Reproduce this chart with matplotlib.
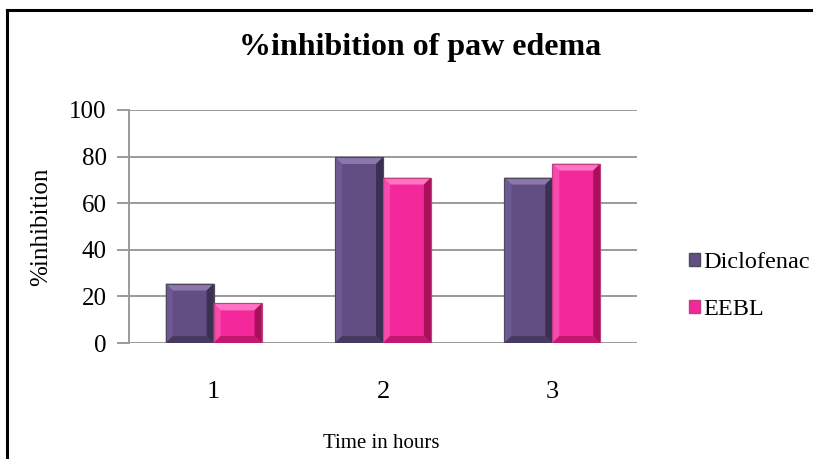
import matplotlib
matplotlib.use("Agg")
import matplotlib.pyplot as plt
from matplotlib.patches import Polygon, Rectangle
from matplotlib.lines import Line2D
import numpy as np

# Data
hours = ["1", "2", "3"]
series_names = ["Diclofenac", "EEBL"]
diclofenac = [25.5, 79.8, 71.0]
eebl = [17.0, 71.0, 77.0]
y_ticks = [0, 20, 40, 60, 80, 100]

# Styling
face = {"Diclofenac": "#624e83", "EEBL": "#f2289b"}
bevel = {
    "Diclofenac": {"top": "#8c76ad", "left": "#6e5a92", "right": "#3b2f52", "bottom": "#47395f", "edge": "#4a4a5a"},
    "EEBL": {"top": "#ff72c4", "left": "#f84aae", "right": "#a8105a", "bottom": "#c2186f", "edge": "#c0407f"},
}
serif = ["Liberation Serif", "DejaVu Serif"]
plt.rcParams["font.family"] = serif

W, H, DPI = 813, 459, 100
fig = plt.figure(figsize=(W / DPI, H / DPI), dpi=DPI)
ax = fig.add_axes([129 / W, 1 - 343 / H, (637 - 129) / W, (343 - 110) / H])

x = np.arange(len(hours))
bw = 0.283
ax.set_xlim(-0.5, len(hours) - 0.5)
ax.set_ylim(0, 100)

# grid
for t in y_ticks:
    ax.axhline(t, color="#9a9a9a", lw=1.4, zorder=1)

def bevel_bar(xc, val, name):
    rect = ax.bar(xc, val, width=bw, color=face[name], edgecolor=bevel[name]["edge"],
                  linewidth=0.8, zorder=2)[0]
    x0, y0 = rect.get_x(), rect.get_y()
    x1, y1 = x0 + rect.get_width(), y0 + rect.get_height()
    # bevel depth expressed in pixels, converted to data units
    px_x = (ax.get_xlim()[1] - ax.get_xlim()[0]) / (637 - 129)
    px_y = (ax.get_ylim()[1] - ax.get_ylim()[0]) / (343 - 110)
    d = 7
    dx, dy = d * px_x, d * px_y
    dy = min(dy, (y1 - y0) / 3)
    ix0, ix1, iy0, iy1 = x0 + dx, x1 - dx, y0 + dy, y1 - dy
    c = bevel[name]
    polys = [
        ([(x0, y1), (x1, y1), (ix1, iy1), (ix0, iy1)], c["top"]),
        ([(x0, y0), (x0, y1), (ix0, iy1), (ix0, iy0)], c["left"]),
        ([(x1, y0), (x1, y1), (ix1, iy1), (ix1, iy0)], c["right"]),
        ([(x0, y0), (x1, y0), (ix1, iy0), (ix0, iy0)], c["bottom"]),
    ]
    for pts, col in polys:
        ax.add_patch(Polygon(pts, closed=True, facecolor=col, edgecolor="none", zorder=3))
    ax.add_patch(Rectangle((x0, y0), x1 - x0, y1 - y0, fill=False,
                           edgecolor=c["edge"], lw=0.8, zorder=4))

for i in range(len(hours)):
    bevel_bar(x[i] - bw / 2, diclofenac[i], "Diclofenac")
    bevel_bar(x[i] + bw / 2, eebl[i], "EEBL")

ax.set_xticks(x)
ax.set_xticklabels(hours, fontsize=19)
ax.set_yticks(y_ticks)
ax.set_yticklabels([str(t) for t in y_ticks], fontsize=18)
ax.tick_params(axis="x", length=0, pad=27)
ax.tick_params(axis="y", length=9, color="#9a9a9a", width=1.4, pad=7)
for s in ["top", "right", "bottom"]:
    ax.spines[s].set_visible(False)
ax.spines["left"].set_color("#9a9a9a")
ax.spines["left"].set_linewidth(1.4)
ax.set_facecolor("white")

ax.set_ylabel("%inhibition", fontsize=18, labelpad=12)
fig.text(381 / W, 1 - 443 / H, "Time in hours", fontsize=15, ha="center", va="center")
fig.text(420 / W, 1 - 48 / H, "%inhibition of paw edema", fontsize=23, fontweight="bold",
         ha="center", va="center")

handles = [Rectangle((0, 0), 1, 1, facecolor=face[n], edgecolor=bevel[n]["edge"]) for n in series_names]
leg = fig.legend(handles, series_names, loc="center left", bbox_to_anchor=(689 / W, 1 - 286 / H),
                 frameon=False, fontsize=17.5, handlelength=0.45, handleheight=0.45,
                 handletextpad=0.12, labelspacing=1.05, borderpad=0, borderaxespad=0)

# outer frame (top and left edges)
fig.add_artist(Line2D([7 / W, 7 / W], [0, 1 - 10 / H], color="black", lw=2.2, transform=fig.transFigure))
fig.add_artist(Line2D([7 / W, 1], [1 - 10 / H, 1 - 10 / H], color="black", lw=2.2, transform=fig.transFigure))

fig.savefig("out.png", dpi=DPI, facecolor="white")
